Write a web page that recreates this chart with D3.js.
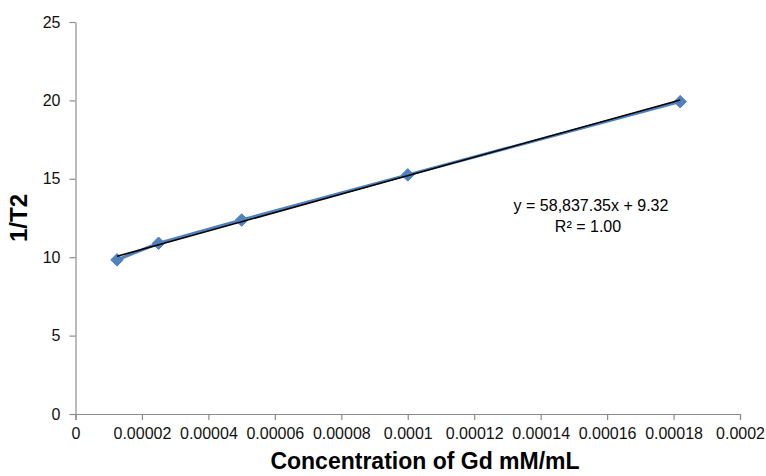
<!DOCTYPE html>
<meta charset="utf-8">
<title>1/T2 vs Gd concentration</title>
<style>
body { margin: 0; background: white; }
svg { font-family: "Liberation Sans", Arial, sans-serif; }
.axis path, .axis line { stroke: #8c8c8c; stroke-width: 1.2px; }
.axis text { fill: #111; font-size: 16px; }
</style>
<body>
<div id="chart"></div>
<script src="https://d3js.org/d3.v7.min.js"></script>
<script>
// data
var concentration = [0.0000125, 0.000025, 0.00005, 0.0001, 0.000182];
var invT2 = [9.83, 10.89, 12.37, 15.25, 19.92];
var xTicks = [0, 0.00002, 0.00004, 0.00006, 0.00008, 0.0001, 0.00012, 0.00014, 0.00016, 0.00018, 0.0002];
var xTickLabels = ["0", "0.00002", "0.00004", "0.00006", "0.00008", "0.0001", "0.00012", "0.00014", "0.00016", "0.00018", "0.0002"];
var yTicks = [0, 5, 10, 15, 20, 25];
var slope = 58837.35, intercept = 9.32;

var width = 766, height = 476;
var margin = {top: 22, right: 26, bottom: 62, left: 75.5};

var svg = d3.select("#chart").append("svg")
    .attr("width", width)
    .attr("height", height);

var x = d3.scaleLinear().domain([0, 0.0002]).range([margin.left, width - margin.right]);
var y = d3.scaleLinear().domain([0, 25]).range([height - margin.bottom, margin.top]);

// x axis
svg.append("g")
    .attr("class", "axis")
    .attr("transform", "translate(0," + y(0) + ")")
    .call(d3.axisBottom(x).tickValues(xTicks)
        .tickFormat(function(d, i) { return xTickLabels[i]; })
        .tickSize(6).tickSizeOuter(6).tickPadding(8));

// y axis
svg.append("g")
    .attr("class", "axis")
    .attr("transform", "translate(" + x(0) + ",0)")
    .call(d3.axisLeft(y).tickValues(yTicks)
        .tickSize(6).tickSizeOuter(0).tickPadding(9));

// data line
var line = d3.line()
    .x(function(d, i) { return x(concentration[i]); })
    .y(function(d) { return y(d); });

svg.append("path")
    .datum(invT2)
    .attr("fill", "none")
    .attr("stroke", "#4f81bd")
    .attr("stroke-width", 3)
    .attr("d", line);

// markers
svg.selectAll("path.pt")
    .data(invT2)
    .enter()
    .append("path")
    .attr("class", "pt")
    .attr("d", d3.symbol().type(d3.symbolDiamond2).size(100))
    .attr("fill", "#4f81bd")
    .attr("stroke", "#4f81bd")
    .attr("stroke-width", 1)
    .attr("transform", function(d, i) { return "translate(" + x(concentration[i]) + "," + y(d) + ")"; });

// linear trend line
var x0 = d3.min(concentration), x1 = d3.max(concentration);
svg.append("line")
    .attr("x1", x(x0)).attr("y1", y(slope * x0 + intercept))
    .attr("x2", x(x1)).attr("y2", y(slope * x1 + intercept))
    .attr("stroke", "black")
    .attr("stroke-width", 1.6);

// equation
svg.append("text")
    .attr("x", 591).attr("y", 211)
    .attr("text-anchor", "middle")
    .style("font-size", "16px")
    .text("y = 58,837.35x + 9.32");
svg.append("text")
    .attr("x", 588).attr("y", 232)
    .attr("text-anchor", "middle")
    .style("font-size", "16px")
    .text("R² = 1.00");

// axis titles
svg.append("text")
    .attr("x", 425).attr("y", 469)
    .attr("text-anchor", "middle")
    .style("font-size", "23px")
    .style("font-weight", "bold")
    .text("Concentration of Gd mM/mL");

svg.append("text")
    .attr("transform", "translate(27,218) rotate(-90)")
    .attr("text-anchor", "middle")
    .style("font-size", "24px")
    .style("font-weight", "bold")
    .text("1/T2");
</script>
</body>
